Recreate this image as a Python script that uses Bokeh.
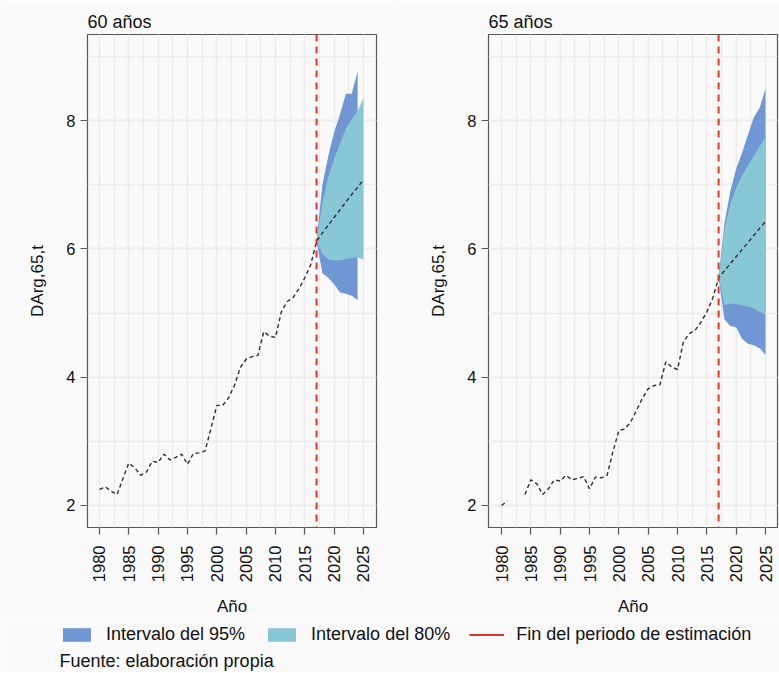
import numpy as np
from bokeh.plotting import figure
from bokeh.layouts import column, row
from bokeh.models import (Span, SingleIntervalTicker, Range1d, Legend, LegendItem, Label)
from bokeh.embed import file_html
from bokeh.resources import INLINE

# ---------------- data ----------------
years_obs = list(range(1980, 2018))
years_fc = list(range(2017, 2026))
years_fc95_60 = list(range(2017, 2025))
END_YEAR = 2017

obs_60 = [2.25, 2.29, 2.22, 2.17, 2.42, 2.66, 2.59, 2.47, 2.52, 2.69,
          2.67, 2.80, 2.71, 2.75, 2.80, 2.64, 2.81, 2.82, 2.85, 3.20,
          3.56, 3.56, 3.68, 3.87, 4.15, 4.28, 4.32, 4.34, 4.71, 4.64,
          4.62, 5.02, 5.18, 5.24, 5.38, 5.55, 5.75, 6.12]
mean_60 = [6.12, 6.25, 6.37, 6.49, 6.61, 6.73, 6.85, 6.96, 7.08]
up80_60 = [6.12, 6.72, 7.12, 7.40, 7.65, 7.88, 8.02, 8.15, 8.35]
lo80_60 = [6.12, 5.92, 5.84, 5.82, 5.82, 5.84, 5.86, 5.87, 5.83]
up95_60 = [6.12, 7.00, 7.45, 7.82, 8.10, 8.42, 8.42, 8.77]
lo95_60 = [6.12, 5.62, 5.55, 5.45, 5.32, 5.30, 5.27, 5.20]

nan = float("nan")
obs_65 = [2.00, 2.07, nan, nan, 2.17, 2.40, 2.34, 2.17, 2.26, 2.40,
          2.38, 2.47, 2.40, 2.42, 2.45, 2.26, 2.44, 2.43, 2.47, 2.84,
          3.17, 3.19, 3.30, 3.48, 3.67, 3.82, 3.87, 3.88, 4.24, 4.16,
          4.12, 4.55, 4.68, 4.73, 4.86, 5.02, 5.23, 5.55]
mean_65 = [5.55, 5.66, 5.77, 5.88, 5.99, 6.10, 6.21, 6.32, 6.43]
up80_65 = [5.55, 6.30, 6.70, 6.95, 7.15, 7.30, 7.45, 7.60, 7.75]
lo80_65 = [5.55, 5.12, 5.15, 5.14, 5.12, 5.10, 5.07, 5.02, 4.97]
up95_65 = [5.55, 6.40, 6.90, 7.25, 7.50, 7.78, 8.05, 8.20, 8.50]
lo95_65 = [5.55, 4.90, 4.80, 4.78, 4.60, 4.52, 4.50, 4.45, 4.35]

titles = ["60 años", "65 años"]
y_label = "DArg,65,t"
x_label = "Año"
legend_labels = ["Intervalo del 95%", "Intervalo del 80%", "Fin del periodo de estimación"]
caption = "Fuente: elaboración propia"

# legend proxy glyphs live outside the legend strip's visible range
proxy_x = [-10, -9]
proxy_y = [-10, -10]

# ---------------- style ----------------
BG = "#FAFAFA"
C95 = "#6F97D3"
C80 = "#88C7D6"
RED = "#E3342B"
GRID = "#ECECEC"
FRAME = "#555555"
FONT = "Liberation Sans"


def make_panel(title, obs, mean, up80, lo80, up95, lo95, yrs95,
               width, x_start, x_end, b_left, b_right):
    p = figure(width=width, height=620, output_backend="svg", toolbar_location=None,
               x_range=Range1d(x_start, x_end), y_range=Range1d(1.656, 9.344),
               min_border_left=b_left, min_border_right=b_right,
               min_border_top=34, min_border_bottom=93,
               background_fill_color=BG, border_fill_color=BG,
               outline_line_color=FRAME, outline_line_width=1.2, title=title)
    p.title.text_font = FONT
    p.title.text_font_size = "18px"
    p.title.text_font_style = "normal"
    p.title.text_color = "#111111"
    p.title.align = "left"
    p.title.standoff = 6

    p.varea(x=yrs95, y1=lo95, y2=up95, fill_color=C95)
    p.varea(x=years_fc, y1=lo80, y2=up80, fill_color=C80)
    p.line(years_obs + years_fc[1:], obs + mean[1:], line_color="#2E2E2E",
           line_width=1.4, line_dash="4 3")
    p.add_layout(Span(location=END_YEAR, dimension="height", line_color=RED,
                      line_dash="7 5", line_width=2))

    p.xaxis.ticker = SingleIntervalTicker(interval=5, num_minor_ticks=2)
    p.yaxis.ticker = SingleIntervalTicker(interval=2, num_minor_ticks=2)
    for ax in (p.xaxis[0], p.yaxis[0]):
        ax.axis_line_color = None
        ax.major_tick_line_color = FRAME
        ax.major_tick_line_width = 1.2
        ax.major_tick_in = 0
        ax.major_tick_out = 7
        ax.minor_tick_line_color = None
        ax.major_label_text_font = FONT
        ax.major_label_text_font_size = "16.5px"
        ax.major_label_text_color = "#111111"
        ax.axis_label_text_font = FONT
        ax.axis_label_text_font_size = "17px"
        ax.axis_label_text_font_style = "normal"
        ax.axis_label_text_color = "#111111"
    p.xaxis.major_label_orientation = np.pi / 2
    p.xaxis.major_label_standoff = 11
    p.xaxis.axis_label = x_label
    p.xaxis.axis_label_standoff = 12
    p.yaxis.major_label_standoff = 5
    p.yaxis.axis_label = y_label
    p.yaxis.axis_label_standoff = 16

    for g in (p.xgrid[0], p.ygrid[0]):
        g.grid_line_color = GRID
        g.grid_line_width = 1.5
        g.minor_grid_line_color = GRID
        g.minor_grid_line_width = 1.5
    return p


p1 = make_panel(titles[0], obs_60, mean_60, up80_60, lo80_60, up95_60, lo95_60,
                years_fc95_60, 395, 1977.955, 2027.22, 87, 19)
p2 = make_panel(titles[1], obs_65, mean_65, up80_65, lo80_65, up95_65, lo95_65,
                years_fc, 384, 1977.78, 2027.04, 93, 2)

# legend + caption strip
p3 = figure(width=779, height=52, output_backend="svg", toolbar_location=None,
            x_range=Range1d(0, 1), y_range=Range1d(0, 1),
            x_axis_location=None, y_axis_location=None, min_border=0,
            background_fill_color=BG, border_fill_color=BG, outline_line_color=None)
p3.grid.visible = False
r95 = p3.varea(x=proxy_x, y1=proxy_y, y2=proxy_y, fill_color=C95)
r80 = p3.varea(x=proxy_x, y1=proxy_y, y2=proxy_y, fill_color=C80)
rred = p3.line(x=proxy_x, y=proxy_y, line_color=RED, line_width=2)
leg = Legend(items=[LegendItem(label=legend_labels[0], renderers=[r95]),
                    LegendItem(label=legend_labels[1], renderers=[r80]),
                    LegendItem(label=legend_labels[2], renderers=[rred])],
             orientation="horizontal", location=(59, 27), padding=0, margin=0,
             border_line_color=None, background_fill_alpha=0,
             glyph_width=35, glyph_height=17, label_height=17,
             label_standoff=12, spacing=19,
             label_text_font=FONT, label_text_font_size="18px",
             label_text_color="#111111")
p3.add_layout(leg)
p3.add_layout(Label(x=59, y=12, x_units="screen", y_units="screen", text=caption,
                    text_baseline="middle", text_font=FONT, text_font_size="18px",
                    text_color="#111111"))

layout = column(row(p1, p2), p3)
open("out.html", "w").write(file_html(layout, INLINE))
